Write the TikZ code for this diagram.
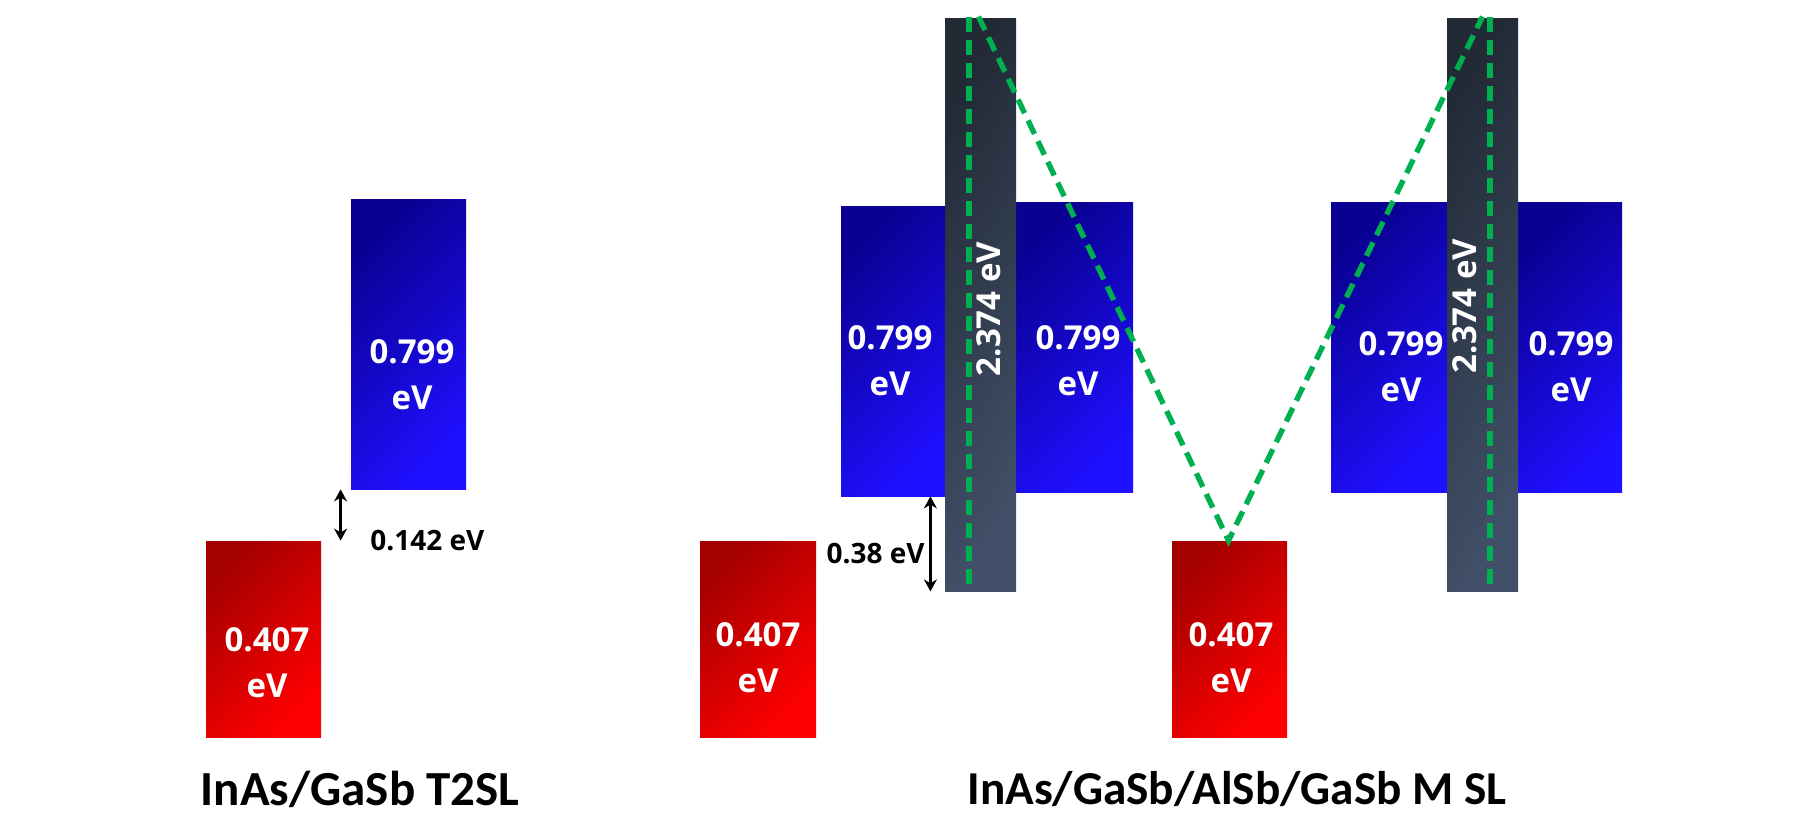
\documentclass[tikz,border=0pt]{standalone}
\usepackage{fontspec}
\setmainfont{Open Sans}
\newfontfamily\titlefont{Carlito}
\usetikzlibrary{arrows.meta,fit}
\definecolor{bluedark}{HTML}{0A0092}
\definecolor{bluelight}{HTML}{1F10FF}
\definecolor{reddark}{HTML}{A50000}
\definecolor{redlight}{HTML}{FF0000}
\definecolor{bardark}{HTML}{222A36}
\definecolor{barlight}{HTML}{415068}
\definecolor{dashgreen}{HTML}{00B050}
\tikzset{
  bluebox/.style={inner sep=0pt, top color=bluedark, bottom color=bluelight, shading angle=45},
  redbox/.style={inner sep=0pt, top color=reddark, bottom color=redlight, shading angle=45},
  barbox/.style={inner sep=0pt, top color=bardark, bottom color=barlight, shading angle=60},
  boxlabel/.style={text=white, align=center, inner sep=0pt, font=\bfseries\fontsize{16.5}{23}\selectfont},
  barlabel/.style={text=white, inner sep=0pt, rotate=90, font=\bfseries\fontsize{16.5}{20}\selectfont},
  gaplabel/.style={text=black, inner sep=0pt, font=\bfseries\fontsize{14}{16}\selectfont},
  titlelabel/.style={text=black, inner sep=0pt, font=\titlefont\bfseries\fontsize{24.5}{28}\selectfont},
  gaparrow/.style={draw=black, line width=1.4pt, {Stealth[length=6pt,width=6.5pt]}-{Stealth[length=6pt,width=6.5pt]}},
  greendash/.style={draw=dashgreen, line width=2.7pt, dash pattern=on 7.5pt off 4pt}
}
\begin{document}
\begin{tikzpicture}[x=0.5pt,y=-0.5pt]
\useasboundingbox (0,0) rectangle (1814,832);
% T2SL
\node[bluebox, fit={(351,199) (466,489)}] (blueA) {};
\node[redbox, fit={(206,541) (321,737)}] (redA) {};
\node[boxlabel] (tblueA) at (412,375) {0.799\\eV};
\node[boxlabel] (tredA) at (267,663) {0.407\\eV};
\draw[gaparrow] ([xshift=-5pt]blueA.south west) -- ([xshift=-5pt]blueA.south west |- redA.north);
\node[gaplabel, anchor=west] (gapA) at (370,541) {0.142 eV};
\node[titlelabel] (titleA) at (360,789) {InAs/GaSb T2SL};
% M SL
\node[redbox, fit={(700,541) (816,737)}] (redB) {};
\node[redbox, fit={(1172,541) (1287,737)}] (redC) {};
\node[bluebox, fit={(841,206) (945,496)}] (blue1) {};
\node[bluebox, fit={(1014,202) (1133,492)}] (blue2) {};
\node[bluebox, fit={(1331,202) (1447,492)}] (blue3) {};
\node[bluebox, fit={(1518,202) (1622,492)}] (blue4) {};
\node[barbox, fit={(945,18) (1016,591)}] (bar1) {};
\node[barbox, fit={(1447,18) (1518,591)}] (bar2) {};
\node[boxlabel] (tredB) at (758,658) {0.407\\eV};
\node[boxlabel] (tredC) at (1231,658) {0.407\\eV};
\node[boxlabel] (tblue1) at (890,361) {0.799\\eV};
\node[boxlabel] (tblue2) at (1078,361) {0.799\\eV};
\node[boxlabel] (tblue3) at (1401,367) {0.799\\eV};
\node[boxlabel] (tblue4) at (1571,367) {0.799\\eV};
\node[barlabel] (tbar1) at (989,309) {2.374 eV};
\node[barlabel] (tbar2) at (1465,306) {2.374 eV};
\draw[gaparrow] ([xshift=-7.5pt]blue1.south east) -- ([xshift=-7.5pt]blue1.south east |- bar1.south);
\node[gaplabel, anchor=east] (gapB) at (925,554) {0.38 eV};
\draw[greendash] ([xshift=-5.75pt,yshift=0.5pt]bar1.north) -- ([xshift=-5.75pt,yshift=3pt]bar1.south);
\draw[greendash] ([xshift=3.75pt,yshift=0.5pt]bar2.north) -- ([xshift=3.75pt,yshift=3pt]bar2.south);
\draw[greendash] ([xshift=-1pt,yshift=0.5pt]bar1.north) -- ([xshift=-0.5pt]redC.north) -- ([yshift=0.5pt]bar2.north);
\node[titlelabel, font=\titlefont\bfseries\fontsize{23.6}{28}\selectfont] (titleB) at (1237,789) {InAs/GaSb/AlSb/GaSb M SL};
\end{tikzpicture}
\end{document}
